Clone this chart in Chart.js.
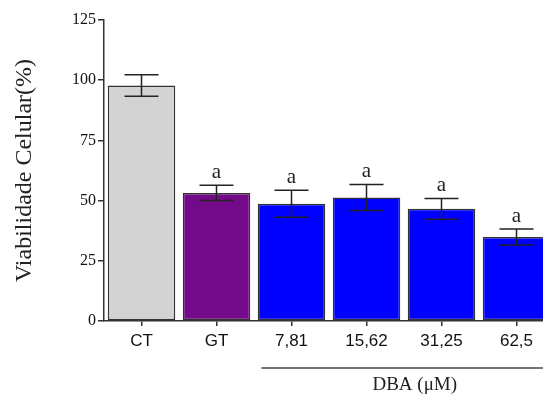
<!DOCTYPE html>
<html>
<head>
<meta charset="utf-8">
<script src="https://cdn.jsdelivr.net/npm/chart.js@4"></script>
<style>
html, body { margin: 0; padding: 0; background: #fff; overflow: hidden; }
#wrap { width: 543px; height: 396px; overflow: hidden; }
</style>
</head>
<body>
<div id="wrap"><canvas id="bar" width="556" height="396"></canvas></div>
<script>
const categories = ['CT', 'GT', '7,81', '15,62', '31,25', '62,5'];
const viability = [97.8, 53.2, 48.7, 51.3, 46.6, 34.9];
const errors = [4.5, 3.2, 5.6, 5.4, 4.3, 3.3];
const marks = ['', 'a', 'a', 'a', 'a', 'a'];
const barColors = ['#d3d3d3', '#730a8a', '#0000ff', '#0000ff', '#0000ff', '#0000ff'];
const yTicks = [0, 25, 50, 75, 100, 125];

const axisColor = '#333';

// error bars, "a" letters and the DBA bracket
const extras = {
  id: 'extras',
  afterDatasetsDraw(chart) {
    const ctx = chart.ctx;
    const x = chart.scales.x;
    const y = chart.scales.y;
    ctx.save();
    ctx.strokeStyle = '#222';
    ctx.lineWidth = 1.5;
    viability.forEach((v, i) => {
      const cx = x.getPixelForValue(i);
      const top = y.getPixelForValue(v + errors[i]);
      const bot = y.getPixelForValue(v - errors[i]);
      ctx.beginPath();
      ctx.moveTo(cx, top); ctx.lineTo(cx, bot);
      ctx.moveTo(cx - 17, top); ctx.lineTo(cx + 17, top);
      ctx.moveTo(cx - 17, bot); ctx.lineTo(cx + 17, bot);
      ctx.stroke();
      if (marks[i]) {
        ctx.fillStyle = '#222';
        ctx.font = '21px "Liberation Serif"';
        ctx.textAlign = 'center';
        ctx.textBaseline = 'alphabetic';
        ctx.fillText(marks[i], cx, top - 7);
      }
    });
    const w = x.getPixelForValue(1) - x.getPixelForValue(0);
    const left = x.getPixelForValue(2) - 0.4 * w;
    const right = chart.chartArea.right + 2;
    ctx.strokeStyle = '#444';
    ctx.beginPath();
    ctx.moveTo(left, 368); ctx.lineTo(right, 368);
    ctx.stroke();
    ctx.fillStyle = '#222';
    ctx.font = '19px "Liberation Serif"';
    ctx.textAlign = 'center';
    ctx.textBaseline = 'middle';
    ctx.fillText('DBA (\u03bcM)', (left + right) / 2 + 6, 385);
    ctx.restore();
  }
};

const bar_ctx = document.getElementById('bar').getContext('2d');
new Chart(bar_ctx, {
  type: 'bar',
  data: {
    labels: categories,
    datasets: [{
      data: viability,
      backgroundColor: barColors,
      borderColor: '#333',
      borderWidth: 1.5,
      borderSkipped: false,
      barPercentage: 0.9,
      categoryPercentage: 1,
    }],
  },
  options: {
    responsive: false,
    animation: false,
    layout: { padding: { top: 20, right: 2, left: 0, bottom: 0 } },
    plugins: { legend: { display: false }, tooltip: { enabled: false } },
    scales: {
      x: {
        offset: true,
        grid: { offset: false, drawOnChartArea: false, drawTicks: true, tickLength: 5, color: axisColor, lineWidth: 1.5 },
        border: { display: true, color: axisColor, width: 1.5 },
        ticks: { color: '#111', font: { family: '"Liberation Sans"', size: 17 }, padding: 5, maxRotation: 0 },
        afterFit(scale) { scale.height = 75; },
      },
      y: {
        min: 0,
        max: 125,
        afterBuildTicks(scale) { scale.ticks = yTicks.map(v => ({ value: v })); },
        grid: { drawOnChartArea: false, drawTicks: true, tickLength: 6, color: axisColor, lineWidth: 1.5 },
        border: { display: true, color: axisColor, width: 1.5 },
        ticks: { color: '#111', font: { family: '"Liberation Serif"', size: 16 }, padding: 2 },
        title: {
          display: true,
          text: 'Viabilidade Celular(%)',
          color: '#222',
          font: { family: '"Liberation Serif"', size: 24 },
          padding: { top: 10, bottom: 0 },
        },
        afterFit(scale) { scale.width = 104; },
      },
    },
  },
  plugins: [extras],
});
</script>
</body>
</html>
